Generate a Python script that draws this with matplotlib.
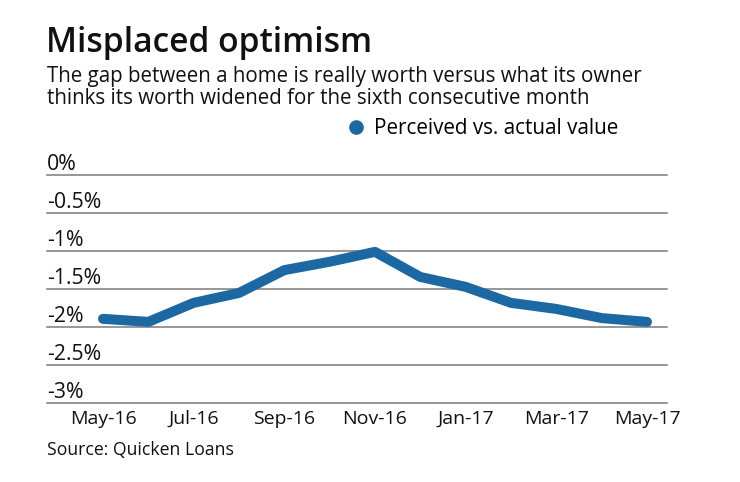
import matplotlib
matplotlib.use("Agg")
import matplotlib.pyplot as plt
from matplotlib.lines import Line2D
from matplotlib.transforms import ScaledTranslation

months = ["May-16", "Jun-16", "Jul-16", "Aug-16", "Sep-16", "Oct-16", "Nov-16",
          "Dec-16", "Jan-17", "Feb-17", "Mar-17", "Apr-17", "May-17"]
values = [-1.89, -1.93, -1.68, -1.55, -1.25, -1.14, -1.01,
          -1.34, -1.47, -1.68, -1.76, -1.88, -1.93]
series_name = "Perceived vs. actual value"
ytick_vals = [0, -0.5, -1, -1.5, -2, -2.5, -3]
ytick_labels = ["0%", "-0.5%", "-1%", "-1.5%", "-2%", "-2.5%", "-3%"]
xtick_idx = [0, 2, 4, 6, 8, 10, 12]
title = "Misplaced optimism"
subtitle = ("The gap between a home is really worth versus what its owner\n"
            "thinks its worth widened for the sixth consecutive month")
source = "Source: Quicken Loans"

BLUE = "#1c68a2"
TXT = "#111111"
FONT = ["Open Sans", "DejaVu Sans"]
plt.rcParams["font.family"] = FONT

W, H = 740, 482
fig = plt.figure(figsize=(W / 100, H / 100), dpi=100)

left_px, right_px, top_px, bot_px = 47, 667, 175, 403.3
ax = fig.add_axes([left_px / W, 1 - bot_px / H, (right_px - left_px) / W, (bot_px - top_px) / H])

x = list(range(len(months)))
ax.plot(x, values, color=BLUE, lw=7.2, solid_capstyle="round", solid_joinstyle="round", zorder=3)

sp = 45.33
ax.set_xlim(-(103 - left_px) / sp, (right_px - 103) / sp)
ax.set_ylim(-3, 0)

for v in ytick_vals:
    ax.axhline(v, color="#7a7a7a", lw=1.1, zorder=1, clip_on=False)

for s in ax.spines.values():
    s.set_visible(False)

ax.set_yticks(ytick_vals)
ax.set_yticklabels(ytick_labels)
ax.tick_params(axis="y", length=0, pad=0, labelsize=15.3, labelcolor=TXT)
off = ScaledTranslation(0, 0.05, fig.dpi_scale_trans)
for lab in ax.get_yticklabels():
    lab.set_ha("left")
    lab.set_va("baseline")
    lab.set_transform(lab.get_transform() + off)

ax.set_xticks(xtick_idx)
ax.set_xticklabels([months[i] for i in xtick_idx])
ax.tick_params(axis="x", length=0, pad=5, labelsize=14, labelcolor=TXT)

fig.text(46 / W, 1 - 52 / H, title, fontsize=24.2, fontweight="semibold", va="baseline", ha="left", color=TXT)
fig.text(left_px / W, 1 - 81.5 / H, subtitle.split("\n")[0], fontsize=14.8, va="baseline", ha="left", color=TXT)
fig.text(left_px / W, 1 - 104.5 / H, subtitle.split("\n")[1], fontsize=14.8, va="baseline", ha="left", color=TXT)
fig.text(left_px / W, 1 - 455 / H, source, fontsize=12.7, va="baseline", ha="left", color=TXT)

handle = Line2D([], [], marker="o", ls="", color=BLUE, markersize=9.5)
fig.legend([handle], [series_name], loc="center left", bbox_to_anchor=(346 / W, 1 - 129 / H),
           frameon=False, fontsize=14.9, handletextpad=0.35, borderpad=0, borderaxespad=0, handlelength=1.0)

fig.savefig("out.png", dpi=100)
